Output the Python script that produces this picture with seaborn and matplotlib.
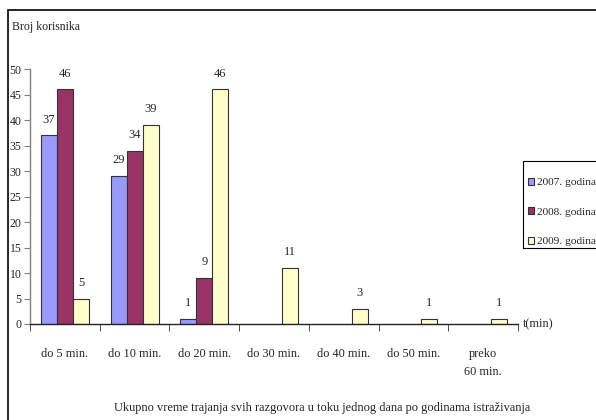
import numpy as np
import pandas as pd
import matplotlib
matplotlib.use("Agg")
import matplotlib.pyplot as plt
import seaborn as sns
from matplotlib.patches import Rectangle

categories = ["do 5 min.", "do 10 min.", "do 20 min.", "do 30 min.",
              "do 40 min.", "do 50 min.", "preko\n60 min."]
series = ["2007. godina", "2008. godina", "2009. godina"]
v2007 = [37, 29, 1, np.nan, np.nan, np.nan, np.nan]
v2008 = [46, 34, 9, np.nan, np.nan, np.nan, np.nan]
v2009 = [5, 39, 46, 11, 3, 1, 1]
colors = ["#9999FF", "#993366", "#FFFFCC"]
yticks = [0, 5, 10, 15, 20, 25, 30, 35, 40, 45, 50]

rows = []
for s, vals in zip(series, [v2007, v2008, v2009]):
    for c, v in zip(categories, vals):
        rows.append({"cat": c, "year": s, "val": v})
df = pd.DataFrame(rows)

sns.set_style("white")
plt.rcParams["font.family"] = ["Liberation Serif", "DejaVu Serif"]

W, H = 596, 420
fig = plt.figure(figsize=(W / 100, H / 100), dpi=100)
ax = fig.add_axes([30 / W, 1 - 324 / H, (518 - 30) / W, (324 - 69) / H])

sns.barplot(data=df, x="cat", y="val", hue="year", order=categories,
            hue_order=series, palette=colors, width=0.69, ax=ax,
            edgecolor="#333333", linewidth=0.8, legend=False, saturation=1)

for cont in ax.containers:
    labels = []
    for bar in cont:
        h = bar.get_height()
        labels.append("" if not np.isfinite(h) else f"{int(round(h))}")
    ax.bar_label(cont, labels=labels, padding=7, fontsize=9, clip_on=False)

ax.set_xlim(-0.5, len(categories) - 0.5)
ax.set_ylim(0, 50)
ax.set_yticks(yticks)
ax.set_yticklabels([str(t) for t in yticks], fontsize=8.5)
ax.set_xticks(range(len(categories)))
ax.set_xticklabels(categories, fontsize=8.8, linespacing=1.75)
ax.set_xticks(np.arange(-0.5, len(categories), 1.0), minor=True)
ax.tick_params(axis="x", which="major", length=0, pad=17)
ax.tick_params(axis="x", which="minor", length=5, color="#333333", direction="out", bottom=True)
ax.tick_params(axis="y", length=4, color="#808080", direction="out", left=True, pad=2)
ax.set_xlabel("")
ax.set_ylabel("")
for sp in ["top", "right"]:
    ax.spines[sp].set_visible(False)
ax.spines["left"].set_color("#808080")
ax.spines["bottom"].set_color("#222222")
for sp in ["left", "bottom"]:
    ax.spines[sp].set_linewidth(1)

fig.text(12 / W, 1 - 27 / H, "Broj korisnika", fontsize=8.5, ha="left", va="center")
fig.text(523 / W, 1 - 324 / H, "t(min)", fontsize=8.8, ha="left", va="center")
fig.text(322 / W, 1 - 408 / H,
         "Ukupno vreme trajanja svih razgovora u toku jednog dana po godinama istraživanja",
         fontsize=8.9, ha="center", va="center")

# legend box frame
fig.patches.append(Rectangle((523 / W, 1 - 248 / H), 0.2, (248 - 161) / H,
                             transform=fig.transFigure, fill=False,
                             edgecolor="black", linewidth=0.8))

handles = [Rectangle((0, 0), 1, 1, facecolor=c, edgecolor="#333333", linewidth=0.8) for c in colors]
leg = fig.legend(handles, series, loc="upper left", bbox_to_anchor=(528 / W, 1 - 178 / H),
                 frameon=False, fontsize=8.2, handlelength=0.55,
                 handleheight=0.55, handletextpad=0.25, labelspacing=1.75,
                 borderpad=0, borderaxespad=0)

fig.patches.append(Rectangle((8 / W, -0.1), 2.0, 1 - 10 / H + 0.1, transform=fig.transFigure,
                             fill=False, edgecolor="black", linewidth=1.2))

fig.savefig("out.png", dpi=100)
